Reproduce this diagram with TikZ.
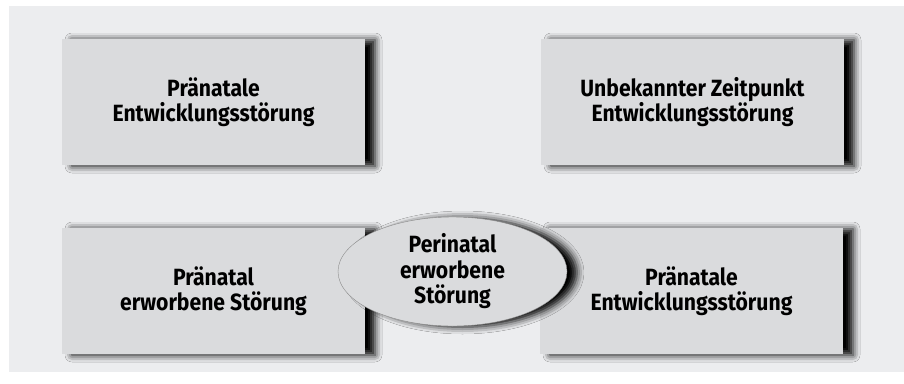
\documentclass[tikz,border=0pt]{standalone}
\usepackage{fontspec}
\newfontfamily\boxfont{Fira Sans}[FakeStretch=0.9]
\usetikzlibrary{shapes.geometric, shadows.blur}
\definecolor{panelgray}{RGB}{236,237,239}
\definecolor{boxgray}{RGB}{218,219,221}
\definecolor{rimgray}{RGB}{140,140,140}
\tikzset{
    darkshadow/.style = {blur shadow = {shadow xshift = 10pt, shadow yshift = -1pt,
        shadow blur radius = 7pt, shadow opacity = 100}},
}
\begin{document}
\begin{tikzpicture}[
                x = 1pt, y = -1pt,
                box/.style = {fill = boxgray, minimum width = 303pt, minimum height = 126pt,
                    align = center, font = \boxfont\bfseries\fontsize{23.5}{25.5}\selectfont,
                    darkshadow},
                oval/.style = {ellipse, draw = rimgray, thin, fill = boxgray,
                    minimum width = 229pt, minimum height = 109pt, inner sep = 0pt,
                    align = center, font = \boxfont\bfseries\fontsize{23.5}{25.5}\selectfont,
                    darkshadow},
            ]
            \useasboundingbox (0, 0) rectangle (904, 383);
            \fill[panelgray] (9, 6) rectangle (904, 372);

            \node (TL) at (213.5, 102) [box] {Pränatale\\Entwicklungsstörung};
            \node (TR) at (692.5, 102) [box] {Unbekannter Zeitpunkt\\Entwicklungsstörung};
            \node (BL) at (213.5, 291) [box] {Pränatal\\erworbene Störung};
            \node (BR) at (691.5, 291) [box] {Pränatale\\Entwicklungsstörung};

            \node (PE) at (452.5, 271.5) [oval] {Perinatal\\erworbene\\Störung};
        \end{tikzpicture}
\end{document}
